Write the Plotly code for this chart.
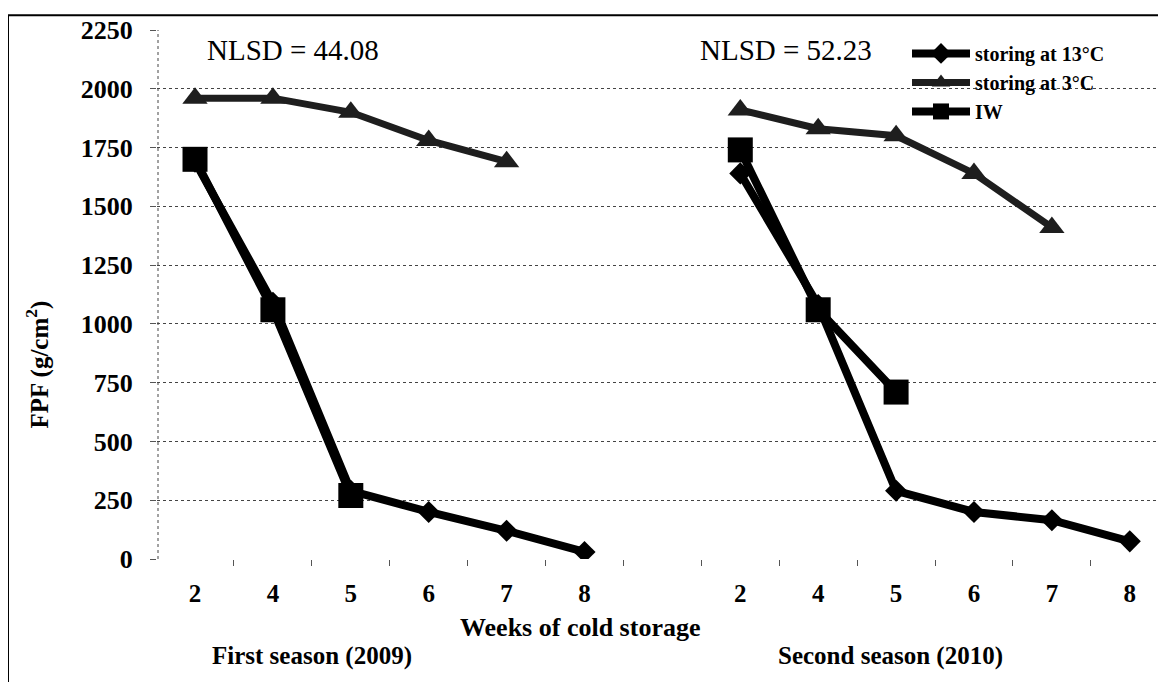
import plotly.graph_objects as go

# ---------------- data ----------------
weeks = ["2", "4", "5", "6", "7", "8"]
season_labels = ["First season (2009)", "Second season (2010)"]
nlsd_labels = ["NLSD = 44.08", "NLSD = 52.23"]

s1_13c = [1690, 1090, 290, 200, 120, 30]
s1_3c = [1960, 1960, 1900, 1780, 1690]
s1_iw = [1700, 1060, 270]

s2_13c = [1640, 1080, 290, 200, 165, 75]
s2_3c = [1910, 1830, 1800, 1640, 1410]
s2_iw = [1740, 1060, 710]

series_names = ["storing at 13°C", "storing at 3°C", "IW"]
y_ticks = [0, 250, 500, 750, 1000, 1250, 1500, 1750, 2000, 2250]

# ---------------- layout geometry (page pixel coordinates) ----------------
W, H = 1166, 682
OFF = 8  # default page body margin
L, R, T, B = 157, 1166, 23, 559
gap = 1  # one empty category between the seasons
off2 = len(weeks) + gap
ncat = len(weeks) * 2 + gap


def px(xp):
    return (xp - L) / (R - L)


def py(yp):
    return (B - yp) / (B - T)


def xy(v1, v2):
    x = list(range(len(v1))) + [None] + [off2 + i for i in range(len(v2))]
    y = list(v1) + [None] + list(v2)
    return x, y


FONT = "Liberation Serif, Times New Roman, serif"

fig = go.Figure()

styles = [
    dict(color="#000000", width=8, symbol="diamond", size=17),
    dict(color="#1e1e1e", width=7, symbol="triangle-up", size=22),
    dict(color="#000000", width=8, symbol="square", size=25),
]
data = [(s1_13c, s2_13c), (s1_3c, s2_3c), (s1_iw, s2_iw)]

for name, (a, b), st in zip(series_names, data, styles):
    x, y = xy(a, b)
    fig.add_trace(go.Scatter(
        x=x, y=y, name=name, mode="lines+markers", connectgaps=False,
        line=dict(color=st["color"], width=st["width"]),
        marker=dict(symbol=st["symbol"], size=st["size"], color=st["color"],
                    line=dict(width=0)),
    ))

tickvals = list(range(len(weeks))) + [off2 + i for i in range(len(weeks))]
ticktext = weeks + weeks

fig.update_layout(
    width=W, height=H,
    margin=dict(l=L - OFF, r=W - (R - OFF), t=T - OFF, b=H - (B - OFF)),
    paper_bgcolor="white", plot_bgcolor="white",
    font=dict(family=FONT, color="black"),
    showlegend=True,
    legend=dict(
        x=px(907), y=py(27), xanchor="left", yanchor="top",
        bgcolor="rgba(0,0,0,0)", borderwidth=0,
        font=dict(family=FONT, size=20, color="black", weight="bold"),
        itemwidth=58, tracegroupgap=0,
    ),
    xaxis=dict(
        range=[-0.488, 12.465], showgrid=False, zeroline=False,
        tickvals=tickvals, ticktext=ticktext, ticks="",
        tickfont=dict(family=FONT, size=25, color="black", weight="bold"),
        ticklabelstandoff=17, showline=False,
        minor=dict(tickvals=[i - 0.5 for i in range(ncat + 1)], ticks="outside",
                   ticklen=6, tickcolor="#555", tickwidth=1, showgrid=False),
    ),
    yaxis=dict(
        range=[0, 2250], tickvals=y_ticks, showgrid=True,
        gridcolor="#444", griddash="dot", gridwidth=1, zeroline=False,
        ticks="outside", ticklen=6, tickcolor="#555",
        tickfont=dict(family=FONT, size=26, color="black", weight="bold"),
        ticklabelstandoff=12, showline=False,
    ),
)

# dotted vertical axis line
fig.add_shape(type="line", xref="paper", yref="paper", x0=0.001, x1=0.001, y0=0, y1=1,
              line=dict(color="#444", width=1, dash="dot"))
# outer frame of the picture
fig.add_shape(type="rect", xref="paper", yref="paper",
              x0=px(8), x1=px(1180), y0=py(8), y1=py(700),
              line=dict(color="black", width=2))

ann = []
for lbl, cx in zip(nlsd_labels, [293, 786]):
    ann.append(dict(text=lbl, x=px(cx), y=py(43), xref="paper", yref="paper",
                    xanchor="center", yanchor="middle", showarrow=False,
                    font=dict(family=FONT, size=29, color="black")))
for lbl, cx in zip(season_labels, [312, 890]):
    ann.append(dict(text=lbl, x=px(cx), y=py(657), xref="paper", yref="paper",
                    xanchor="center", yanchor="middle", showarrow=False,
                    font=dict(family=FONT, size=25, color="black", weight="bold")))
ann.append(dict(text="Weeks of cold storage", x=px(580), y=py(628), xref="paper", yref="paper",
                xanchor="center", yanchor="middle", showarrow=False,
                font=dict(family=FONT, size=26, color="black", weight="bold")))
ann.append(dict(text="FPF (g/cm<sup>2</sup>)", x=px(38), y=py(362), xref="paper", yref="paper",
                xanchor="center", yanchor="middle", showarrow=False, textangle=-90,
                font=dict(family=FONT, size=25, color="black", weight="bold")))
fig.update_layout(annotations=ann)

fig.write_html("out.html")
